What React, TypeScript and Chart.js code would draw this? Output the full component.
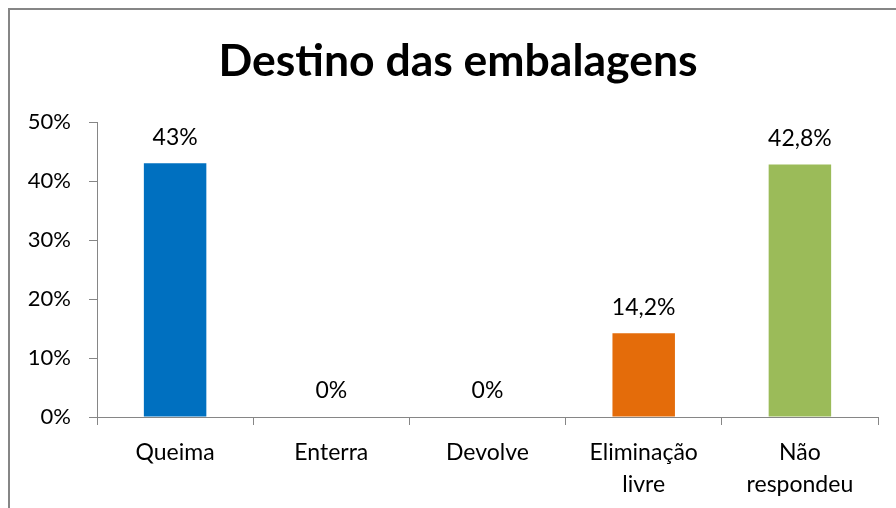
import React, { useEffect, useRef } from "react";
import { Chart, registerables } from "chart.js";

Chart.register(...registerables);

const title = "Destino das embalagens";
const categories: (string | string[])[] = ["Queima", "Enterra", "Devolve", ["Eliminação", "livre"], ["Não", "respondeu"]];
const values = [43, 0, 0, 14.2, 42.8];
const valueLabels = ["43%", "0%", "0%", "14,2%", "42,8%"];
const barColors = ["#0070C0", "#0070C0", "#0070C0", "#E46C0A", "#9BBB59"];
const yTicks = [0, 10, 20, 30, 40, 50];

const FONT = "Lato, 'Liberation Sans', sans-serif";
const AXIS = "#868686";

export default function App() {
  const ref = useRef<HTMLCanvasElement | null>(null);
  useEffect(() => {
    const canvas = ref.current!;
    const overlay = {
      id: "overlay",
      beforeDraw(chart: any) {
        const ctx = chart.ctx;
        ctx.save();
        ctx.fillStyle = "#ffffff";
        ctx.fillRect(0, 0, chart.width, chart.height);
        ctx.strokeStyle = AXIS;
        ctx.lineWidth = 2;
        ctx.beginPath();
        ctx.moveTo(9, chart.height);
        ctx.lineTo(9, 9);
        ctx.lineTo(chart.width, 9);
        ctx.stroke();
        ctx.fillStyle = "#000";
        ctx.font = `bold 44.5px ${FONT}`;
        ctx.textAlign = "center";
        ctx.textBaseline = "middle";
        ctx.fillText(title, 458, 62);
        ctx.restore();
      },
      afterDatasetsDraw(chart: any) {
        const ctx = chart.ctx;
        const meta = chart.getDatasetMeta(0);
        ctx.save();
        ctx.fillStyle = "#000";
        ctx.font = `23px ${FONT}`;
        ctx.textAlign = "center";
        ctx.textBaseline = "middle";
        meta.data.forEach((el: any, i: number) => {
          ctx.fillText(valueLabels[i], el.x, el.y - 26);
        });
        ctx.restore();
      },
    };
    const chart = new Chart(canvas, {
      type: "bar",
      data: {
        labels: categories as any,
        datasets: [
          {
            data: values,
            backgroundColor: barColors,
            barPercentage: 0.4,
            categoryPercentage: 1,
          },
        ],
      },
      options: {
        animation: false,
        responsive: false,
        devicePixelRatio: 1,
        layout: { padding: { left: 0, top: 122, right: 18, bottom: 0 } },
        plugins: { legend: { display: false }, tooltip: { enabled: false }, title: { display: false } },
        scales: {
          x: {
            offset: true,
            grid: { offset: true, drawOnChartArea: false, color: AXIS, tickLength: 8, tickColor: AXIS },
            border: { color: AXIS, width: 1 },
            ticks: { color: "#000", font: { family: FONT, size: 23, lineHeight: 1.39 }, padding: 12, maxRotation: 0, autoSkip: false },
            afterFit(scale: any) { scale.height = 91; },
          },
          y: {
            min: 0,
            max: 50,
            afterBuildTicks(scale: any) { scale.ticks = yTicks.map((v) => ({ value: v })); },
            grid: { drawOnChartArea: false, color: AXIS, tickLength: 8, tickColor: AXIS },
            border: { color: AXIS, width: 1 },
            ticks: { color: "#000", font: { family: FONT, size: 22 }, padding: 18, callback: (v: any) => `${v}%` },
            afterFit(scale: any) { scale.width = 97; },
          },
        },
      },
      plugins: [overlay],
    });
    return () => chart.destroy();
  }, []);
  return (
    <div style={{ position: "absolute", left: 0, top: 0, width: 896, height: 508 }}>
      <canvas ref={ref} width={896} height={508} style={{ display: "block", width: 896, height: 508 }} />
    </div>
  );
}
